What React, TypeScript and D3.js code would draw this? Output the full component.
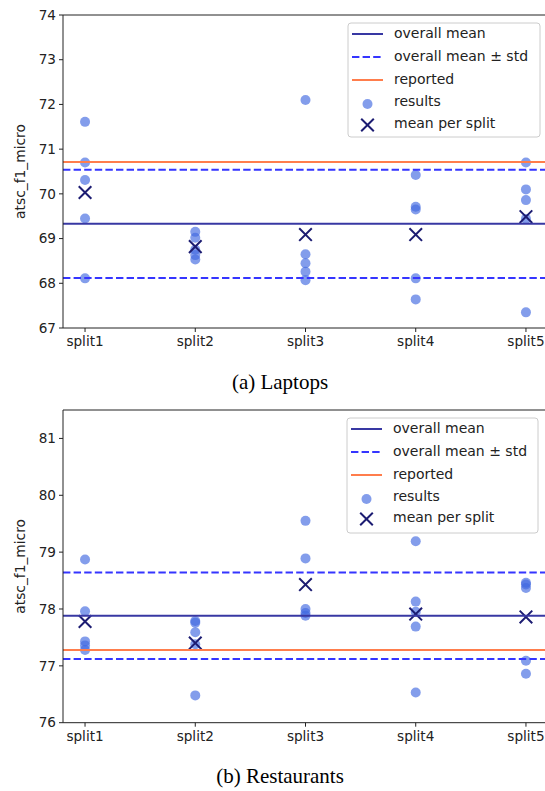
import React from "react";
import * as d3 from "d3";

const splits = ["split1", "split2", "split3", "split4", "split5"];

// Laptops results per split
const laptopResults = [
  [71.61, 70.7, 70.31, 69.45, 68.11],
  [69.15, 69.02, 68.75, 68.63, 68.53],
  [72.1, 68.65, 68.45, 68.26, 68.07],
  [70.42, 69.71, 69.65, 68.11, 67.64],
  [70.7, 70.1, 69.86, 69.44, 67.35],
];
const laptopMeans = [70.03, 68.82, 69.09, 69.09, 69.49];
const laptopOverall = 69.33;
const laptopStd = 1.21;
const laptopReported = 70.71;
const laptopTicks = [67, 68, 69, 70, 71, 72, 73, 74];

// Restaurants results per split
const restResults = [
  [78.87, 77.96, 77.43, 77.36, 77.28],
  [77.79, 77.76, 77.59, 77.38, 76.48],
  [79.55, 78.89, 78.0, 77.93, 77.88],
  [79.19, 78.13, 77.95, 77.69, 76.53],
  [78.46, 78.43, 78.37, 77.09, 76.86],
];
const restMeans = [77.78, 77.4, 78.43, 77.91, 77.86];
const restOverall = 77.88;
const restStd = 0.76;
const restReported = 77.28;
const restTicks = [76, 77, 78, 79, 80, 81];

const legendLabels = ["overall mean", "overall mean ± std", "reported", "results", "mean per split"];
const captions = ["(a) Laptops", "(b) Restaurants"];

const C_MEAN = "#3838a3";
const C_STD = "#3535ff";
const C_REP = "#ff7d4c";
const C_DOT = "#4169e1";
const C_X = "#1c1c72";
const FONT = "DejaVu Sans, sans-serif";

const X0 = 63;
const X1 = 548;

function Panel({ results, means, overall, std, reported, ticks, domain, top, bottom, legendBox, legendYs, caption, captionY }: any) {
  const x = d3.scalePoint<string>().domain(splits).range([X0, X1]).padding(0.2);
  const y = d3.scaleLinear().domain(domain).range([bottom, top]);
  const dash = "7.4,3.2";
  const hLine = (v: number, color: string, dashed: boolean, key: string) => (
    <line key={key} x1={X0} x2={X1} y1={y(v)} y2={y(v)} stroke={color} strokeWidth={2} strokeDasharray={dashed ? dash : undefined} />
  );
  const xMark = (cx: number, cy: number, key: string, s = 6.3) => (
    <path key={key} d={`M${cx - s},${cy - s}L${cx + s},${cy + s}M${cx - s},${cy + s}L${cx + s},${cy - s}`} stroke={C_X} strokeWidth={2} fill="none" />
  );
  const [lx0, ly0, lx1, ly1] = legendBox;
  const hx0 = lx0 + 4, hx1 = lx0 + 35, hc = (hx0 + hx1) / 2, tx = lx0 + 46;
  return (
    <g>
      {results.map((arr: number[], i: number) =>
        arr.map((v, j) => <circle key={`d${i}-${j}`} cx={x(splits[i])} cy={y(v)} r={5} fill={C_DOT} fillOpacity={0.65} />)
      )}
      {means.map((v: number, i: number) => xMark(x(splits[i])!, y(v), `x${i}`))}
      {hLine(overall, C_MEAN, false, "m")}
      {hLine(overall + std, C_STD, true, "s1")}
      {hLine(overall - std, C_STD, true, "s2")}
      {hLine(reported, C_REP, false, "r")}
      <line x1={X0} x2={X0} y1={top} y2={bottom} stroke="#222" strokeWidth={1} />
      <line x1={X0} x2={X1} y1={bottom} y2={bottom} stroke="#222" strokeWidth={1} />
      <line x1={X0} x2={X1} y1={top} y2={top} stroke="#222" strokeWidth={1} />
      <line x1={X1} x2={X1} y1={top} y2={bottom} stroke="#222" strokeWidth={1} />
      {ticks.map((t: number) => (
        <g key={`yt${t}`}>
          <line x1={X0 - 4} x2={X0} y1={y(t)} y2={y(t)} stroke="#222" strokeWidth={1} />
          <text x={X0 - 7} y={y(t)} dy="0.35em" textAnchor="end" fontFamily={FONT} fontSize={13.6} fill="#222">{t}</text>
        </g>
      ))}
      {splits.map((s) => (
        <g key={`xt${s}`}>
          <line x1={x(s)} x2={x(s)} y1={bottom} y2={bottom + 4} stroke="#222" strokeWidth={1} />
          <text x={x(s)} y={bottom + 18} textAnchor="middle" fontFamily={FONT} fontSize={13.6} fill="#222">{s}</text>
        </g>
      ))}
      <text transform={`translate(25,${(top + bottom) / 2}) rotate(-90)`} textAnchor="middle" fontFamily={FONT} fontSize={13.8} fill="#222">atsc_f1_micro</text>
      <rect x={lx0} y={ly0} width={lx1 - lx0} height={ly1 - ly0} rx={3} fill="white" fillOpacity={0.8} stroke="#cccccc" strokeWidth={1} />
      <line x1={hx0} x2={hx1} y1={legendYs[0]} y2={legendYs[0]} stroke={C_MEAN} strokeWidth={2} />
      <line x1={hx0} x2={hx1} y1={legendYs[1]} y2={legendYs[1]} stroke={C_STD} strokeWidth={2} strokeDasharray={dash} />
      <line x1={hx0} x2={hx1} y1={legendYs[2]} y2={legendYs[2]} stroke={C_REP} strokeWidth={2} />
      <circle cx={hc} cy={legendYs[3] + 2} r={5} fill={C_DOT} fillOpacity={0.65} />
      {xMark(hc, legendYs[4] + 1, "lx")}
      {legendLabels.map((l, i) => (
        <text key={l} x={tx} y={legendYs[i]} dy="0.3em" fontFamily={FONT} fontSize={14} fill="#222">{l}</text>
      ))}
      <text x={280} y={captionY} textAnchor="middle" fontFamily="Liberation Serif, Times New Roman, serif" fontSize={21} fill="#000">{caption}</text>
    </g>
  );
}

export default function App() {
  return (
    <svg width={545} height={791} style={{ position: "absolute", left: 0, top: 0, background: "white" }}>
      <rect x={0} y={0} width={545} height={791} fill="white" />
      <Panel results={laptopResults} means={laptopMeans} overall={laptopOverall} std={laptopStd} reported={laptopReported}
        ticks={laptopTicks} domain={[67, 74]} top={15} bottom={328}
        legendBox={[348, 23, 540, 137]} legendYs={[34, 57, 80, 102, 124]} caption={captions[0]} captionY={389} />
      <Panel results={restResults} means={restMeans} overall={restOverall} std={restStd} reported={restReported}
        ticks={restTicks} domain={[76, 81.5]} top={410} bottom={722.7}
        legendBox={[347, 418, 538, 533]} legendYs={[429, 452, 475, 497, 518]} caption={captions[1]} captionY={783} />
    </svg>
  );
}
